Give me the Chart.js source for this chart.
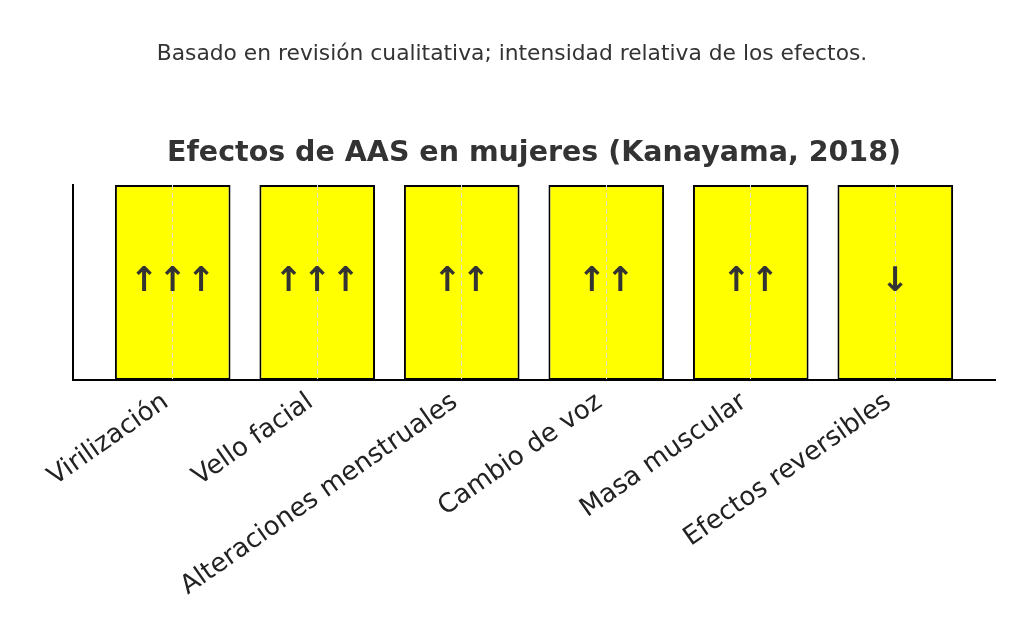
<!DOCTYPE html>
<html>
<head>
<meta charset="utf-8">
<script src="https://cdn.jsdelivr.net/npm/chart.js@4"></script>
<style>
html,body{margin:0;padding:0;background:#fff;}
#wrap{width:1024px;height:630px;position:relative;}
</style>
</head>
<body>
<div id="wrap"><canvas id="c" width="1024" height="630"></canvas></div>
<script>
const categories = ["Virilización", "Vello facial", "Alteraciones menstruales", "Cambio de voz", "Masa muscular", "Efectos reversibles"];
const values = [1, 1, 1, 1, 1, 1];
const arrows = ["↑↑↑", "↑↑↑", "↑↑", "↑↑", "↑↑", "↓"];
const titleText = "Efectos de AAS en mujeres (Kanayama, 2018)";
const noteText = "Basado en revisión cualitativa; intensidad relativa de los efectos.";

const FONT = "'DejaVu Sans', sans-serif";

const overlay = {
  id: 'overlay',
  afterDraw(chart) {
    const ctx = chart.ctx;
    const a = chart.chartArea;
    const meta = chart.getDatasetMeta(0);
    ctx.save();
    ctx.fillStyle = '#333333';
    ctx.textAlign = 'center';
    ctx.textBaseline = 'middle';
    ctx.font = 'bold 34px ' + FONT;
    meta.data.forEach((bar, i) => {
      ctx.fillText(arrows[i], bar.x, (bar.y + bar.base) / 2);
    });
    ctx.font = 'bold 28.5px ' + FONT;
    ctx.fillText(titleText, (a.left + a.right) / 2, 154);
    ctx.font = '21.8px ' + FONT;
    ctx.fillText(noteText, chart.width / 2, 54);
    ctx.restore();
  }
};

new Chart(document.getElementById('c'), {
  type: 'bar',
  data: {
    datasets: [{
      data: values.map((v, i) => ({x: i, y: v})),
      backgroundColor: '#ffff00',
      borderColor: '#000000',
      borderWidth: 2,
      borderSkipped: false,
      barPercentage: 0.8,
      categoryPercentage: 1.0
    }]
  },
  options: {
    responsive: false,
    animation: false,
    devicePixelRatio: 1,
    layout: { padding: { left: 73, right: 29, top: 185, bottom: 0 } },
    plugins: {
      legend: { display: false },
      tooltip: { enabled: false },
      title: { display: false }
    },
    scales: {
      x: {
        type: 'linear',
        min: -0.69,
        max: 5.69,
        offset: false,
        afterBuildTicks(scale) {
          scale.ticks = categories.map((c, i) => ({ value: i }));
        },
        afterFit(scale) { scale.height = 250; },
        ticks: {
          autoSkip: false,
          minRotation: 35,
          maxRotation: 35,
          padding: 2,
          color: '#222222',
          font: { family: FONT, size: 26 },
          callback: (v) => (categories[v] || '') + ' '
        },
        grid: {
          display: true,
          offset: false,
          z: 1,
          color: '#dcdcdc',
          lineWidth: 1,
          drawTicks: false,
          tickLength: 0
        },
        border: { display: true, z: 1, color: '#000000', width: 2, dash: [5, 3] }
      },
      y: {
        min: 0,
        max: 1,
        afterFit(scale) { scale.width = 0; },
        ticks: { display: false },
        grid: { display: false, drawTicks: false },
        border: { display: true, color: '#000000', width: 2 }
      }
    }
  },
  plugins: [overlay]
});
</script>
</body>
</html>
